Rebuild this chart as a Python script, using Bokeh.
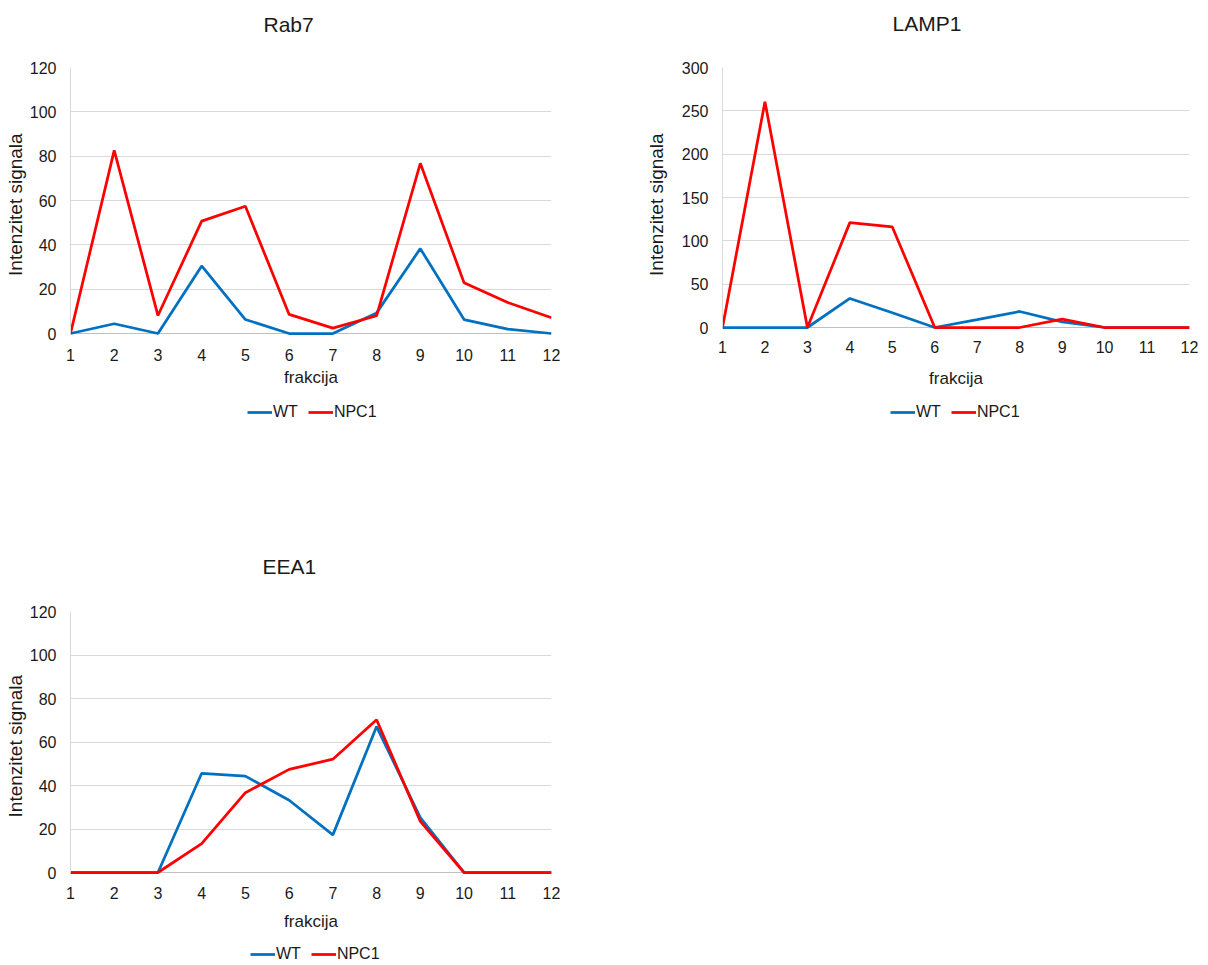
from bokeh.plotting import figure
from bokeh.models import Range1d, FixedTicker, Legend, LegendItem, Spacer, Span
from bokeh.layouts import column, row
from bokeh.embed import file_html
from bokeh.resources import INLINE

# ---- data ----
fractions = [1, 2, 3, 4, 5, 6, 7, 8, 9, 10, 11, 12]
series_names = ["WT", "NPC1"]

rab7_wt = [0, 4.4, 0, 30.5, 6.3, 0, 0, 9.3, 38.3, 6.3, 2.0, 0]
rab7_npc1 = [0, 82.6, 8.1, 50.7, 57.4, 8.6, 2.4, 8.0, 76.8, 22.9, 14.0, 7.1]
rab7_yticks = [0, 20, 40, 60, 80, 100, 120]

lamp1_wt = [0, 0, 0, 33.5, 17.0, 0, 9.2, 18.5, 6.5, 0, 0, 0]
lamp1_npc1 = [0, 260.4, 0, 121.0, 116.0, 0, 0, 0, 9.6, 0, 0, 0]
lamp1_yticks = [0, 50, 100, 150, 200, 250, 300]

eea1_wt = [0, 0, 0, 45.6, 44.3, 33.2, 17.3, 67.1, 25.2, 0, 0, 0]
eea1_npc1 = [0, 0, 0, 13.3, 36.7, 47.4, 52.1, 70.2, 23.5, 0, 0, 0]
eea1_yticks = [0, 20, 40, 60, 80, 100, 120]

x_label = "frakcija"
y_label = "Intenzitet  signala"

# ---- style ----
FONT = "Liberation Sans"
TEXT = "#1a1a1a"
BLUE = "#0070C0"
RED = "#FF0000"
GRID = "#D9D9D9"
AXIS = "#BFBFBF"
LW = 2.75


def make_chart(title, wt, npc1, yticks, size, borders, pad_px, plot_px,
               title_offset, title_standoff, y_lab_standoff,
               x_tick_standoff, x_lab_standoff):
    """pad_px: blank pixels below the zero line inside the frame (so lines at
    zero are not clipped); plot_px: pixel height from zero line to top tick."""
    w, h = size
    bl, br, bt, bb = borders
    y_pad = (yticks[-1] - yticks[0]) * pad_px / plot_px
    p = figure(width=w, height=h,
               x_range=Range1d(fractions[0], fractions[-1]),
               y_range=Range1d(yticks[0] - y_pad, yticks[-1]),
               output_backend="svg", toolbar_location=None,
               min_border_left=bl, min_border_right=br,
               min_border_top=bt, min_border_bottom=bb,
               background_fill_color="white", border_fill_color="white")
    p.outline_line_color = None

    p.title.text = title + "\n"
    p.title.text_font = FONT
    p.title.text_font_size = "21px"
    p.title.text_font_style = "normal"
    p.title.text_color = TEXT
    p.title.align = "left"
    p.title.offset = title_offset
    p.title.vertical_align = "top"
    p.title.standoff = title_standoff

    p.xgrid.visible = False
    p.ygrid.grid_line_color = GRID
    p.ygrid.grid_line_width = 1

    p.xaxis.ticker = FixedTicker(ticks=fractions)
    p.yaxis.ticker = FixedTicker(ticks=yticks)
    for ax in (p.xaxis[0], p.yaxis[0]):
        ax.major_tick_line_color = None
        ax.minor_tick_line_color = None
        ax.major_tick_out = 0
        ax.major_tick_in = 0
        ax.minor_tick_out = 0
        ax.minor_tick_in = 0
        ax.major_label_text_font = FONT
        ax.major_label_text_font_size = "16px"
        ax.major_label_text_color = TEXT
        ax.axis_label_text_font = FONT
        ax.axis_label_text_font_style = "normal"
        ax.axis_label_text_color = TEXT
    p.xaxis.axis_label_text_font_size = "17px"
    p.yaxis.axis_label_text_font_size = "19px"
    p.xaxis.axis_line_color = None
    p.yaxis.axis_line_color = GRID
    p.yaxis.bounds = (yticks[0], yticks[-1])
    p.xaxis.axis_label = x_label
    p.yaxis.axis_label = y_label
    p.yaxis.major_label_standoff = 14
    p.yaxis.axis_label_standoff = y_lab_standoff
    p.xaxis.major_label_standoff = x_tick_standoff
    p.xaxis.axis_label_standoff = x_lab_standoff

    # horizontal axis line at zero
    p.add_layout(Span(location=yticks[0], dimension="width",
                      line_color=AXIS, line_width=1, level="underlay"))

    p.line(fractions, wt, line_color=BLUE, line_width=LW)
    p.line(fractions, npc1, line_color=RED, line_width=LW)
    return p


def make_legend_fig(wt, npc1, size, borders, loc):
    w, h = size
    bl, br = borders
    q = figure(width=w, height=h, title=None,
               x_range=Range1d(0, 1), y_range=Range1d(0, 1),
               output_backend="svg", toolbar_location=None,
               x_axis_location=None, y_axis_location=None,
               min_border_left=bl, min_border_right=br,
               min_border_top=0, min_border_bottom=0,
               background_fill_color="white", border_fill_color="white")
    q.outline_line_color = None
    q.grid.visible = False
    r_wt = q.line(fractions, wt, line_color=BLUE, line_width=LW, visible=False)
    r_npc = q.line(fractions, npc1, line_color=RED, line_width=LW, visible=False)
    legend = Legend(items=[LegendItem(label=series_names[0], renderers=[r_wt]),
                           LegendItem(label=series_names[1], renderers=[r_npc])],
                    orientation="horizontal", location=loc,
                    glyph_width=25, glyph_height=18, label_height=18,
                    label_standoff=1, spacing=10, padding=0, margin=0,
                    border_line_color=None, background_fill_alpha=0,
                    inactive_fill_alpha=0,
                    label_text_font=FONT, label_text_font_size="16px",
                    label_text_color=TEXT)
    q.add_layout(legend)
    return q


p1 = make_chart("Rab7", rab7_wt, rab7_npc1, rab7_yticks, (598, 401),
                (70, 47, 67, 65), 3, 266, 193, 13, 1, 12, 4)
leg1 = make_legend_fig(rab7_wt, rab7_npc1, (598, 51), (70, 47), (177, 31))

p2 = make_chart("LAMP1", lamp1_wt, lamp1_npc1, lamp1_yticks, (610, 401),
                (124, 19, 67, 65), 9, 260, 170, 15, 12, 4, 13)
leg2 = make_legend_fig(lamp1_wt, lamp1_npc1, (610, 51), (124, 19), (168, 31))

p3 = make_chart("EEA1", eea1_wt, eea1_npc1, eea1_yticks, (598, 391),
                (70, 47, 67, 60), 3, 261, 192, 17, 1, 11, 10)
leg3 = make_legend_fig(eea1_wt, eea1_npc1, (598, 30), (70, 47), (180, 2))

layout = column(row(column(p1, leg1), column(p2, leg2)),
                Spacer(height=92),
                column(p3, leg3))

open("out.html", "w").write(file_html(layout, INLINE))
